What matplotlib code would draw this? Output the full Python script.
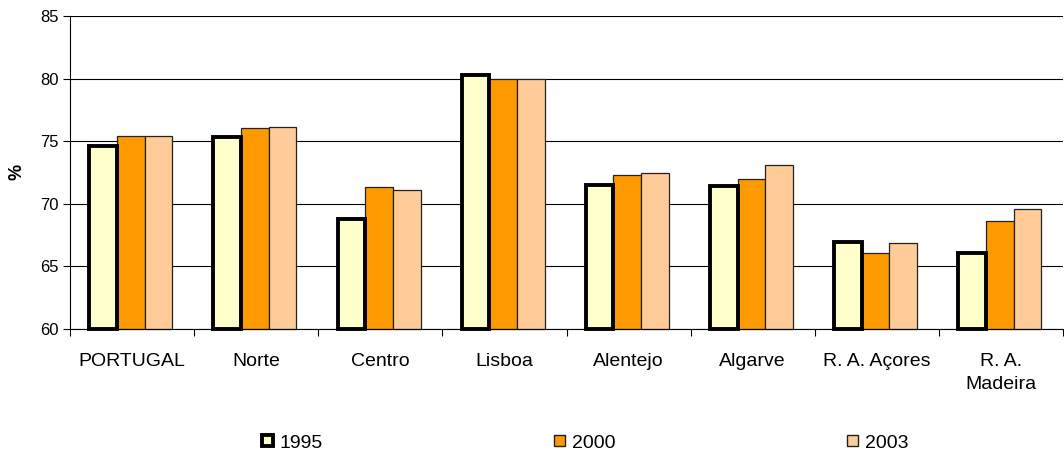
import matplotlib
matplotlib.use("Agg")
import matplotlib.pyplot as plt
from matplotlib.patches import Patch
import numpy as np

plt.rcParams['font.family'] = ['Liberation Sans', 'DejaVu Sans']

categories = ["PORTUGAL", "Norte", "Centro", "Lisboa", "Alentejo", "Algarve",
              "R. A. Açores", "R. A.\nMadeira"]
years = ["1995", "2000", "2003"]
v1995 = [74.6, 75.3, 68.8, 80.3, 71.5, 71.4, 66.95, 66.05]
v2000 = [75.45, 76.05, 71.35, 80.0, 72.3, 71.95, 66.05, 68.65]
v2003 = [75.45, 76.1, 71.1, 80.0, 72.45, 73.1, 66.9, 69.6]

yticks = [60, 65, 70, 75, 80, 85]
base = 60

fig = plt.figure(figsize=(10.64, 4.53), dpi=100)
ax = fig.add_axes([70/1064, (453-329)/453, (1063-70)/1064, (329-16)/453])

n = len(categories)
x = np.arange(n)
w = 0.223
offs = [-w, 0, w]
center_shift = -0.01

series = [v1995, v2000, v2003]
fills = ["#FFFFCC", "#FF9900", "#FFCC99"]
edges = ["#000000", "#222222", "#222222"]
lws = [2.8, 0.9, 0.9]

for vals, o, fc, ec, lw in zip(series, offs, fills, edges, lws):
    vals = np.array(vals)
    ax.bar(x + o + center_shift, vals - base, bottom=base, width=w, color=fc,
           edgecolor=ec, linewidth=lw, zorder=3 if lw > 1 else 2, clip_on=False)

ax.set_xlim(-0.5, n - 0.5)
ax.set_ylim(60, 85)
ax.set_yticks(yticks)
ax.yaxis.grid(True, color="#000000", linewidth=0.8, zorder=0)
ax.set_axisbelow(True)

ax.set_xticks(np.arange(n + 1) - 0.5)
ax.set_xticklabels([])
ax.set_xticks(x, minor=True)
ax.set_xticklabels(categories, minor=True, fontsize=14, linespacing=1.45)
ax.tick_params(axis='x', which='minor', length=0, pad=17.5)
ax.tick_params(axis='x', which='major', length=5, width=0.8, direction='out')
ax.tick_params(axis='y', length=5, width=0.8, labelsize=12, pad=3)

for s in ['top', 'right']:
    ax.spines[s].set_visible(False)
ax.spines['left'].set_linewidth(0.8)
ax.spines['bottom'].set_linewidth(0.8)

ax.set_ylabel("%", fontsize=13, fontweight='bold', va='center')
ax.yaxis.set_label_coords((17.5 - 70) / 993, (329 - 172) / 313)

handles = [Patch(facecolor=f, edgecolor=e, linewidth=l) for f, e, l in
           zip(fills, edges, [2.8, 1.0, 1.0])]
fig.legend(handles, years, loc='center', bbox_to_anchor=(585/1064, 1 - 443/453),
           ncol=3, frameon=False, fontsize=14, handlelength=0.55, handleheight=0.55,
           handletextpad=0.36, columnspacing=11.9, borderaxespad=0, borderpad=0)

fig.savefig("out.png", dpi=100)
